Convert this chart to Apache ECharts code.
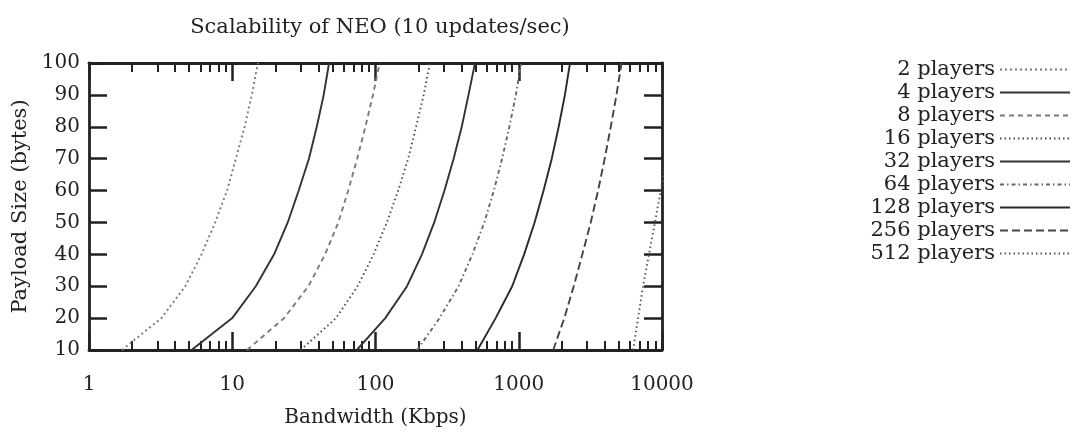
<!DOCTYPE html>
<html>
<head>
<meta charset="utf-8">
<title>Scalability of NEO</title>
<script src="https://cdn.jsdelivr.net/npm/echarts@6/dist/echarts.min.js"></script>
<style>
  html, body { margin: 0; padding: 0; background: #fff; }
  #chart { width: 1082px; height: 437px; }
</style>
</head>
<body>
<div id="chart"></div>
<script>
// Payload size (bytes) for each sample point
const payloads = [10, 20, 30, 40, 50, 60, 70, 80, 90, 100];

// Bandwidth (Kbps) per player count, one value per payload size
const bw2   = [1.7, 3.2, 4.7, 6.1, 7.6, 9.2, 10.6, 12.2, 13.7, 15.1];
const bw4   = [5.2, 10.0, 14.6, 19.6, 24.4, 29.1, 34.3, 38.9, 43.5, 47.4];
const bw8   = [12.7, 23, 34, 44.5, 55, 64.5, 74.5, 85, 96, 107];
const bw16  = [30, 53, 75, 97, 120, 144, 169, 192, 217, 240];
const bw32  = [74, 117, 166, 211, 257, 303, 351, 400, 446, 495];
const bw64  = [195, 280, 380, 475, 575, 670, 765, 860, 955, 1040];
const bw128 = [515, 690, 900, 1090, 1290, 1490, 1700, 1900, 2100, 2280];
const bw256 = [1740, 2080, 2420, 2780, 3180, 3580, 3980, 4390, 4810, 5220];
const bw512 = [6280, 6810, 7370, 8110, 8930, 9800, 10700];

const seriesNames = ['2 players', '4 players', '8 players', '16 players', '32 players',
                     '64 players', '128 players', '256 players', '512 players'];
const seriesValues = [bw2, bw4, bw8, bw16, bw32, bw64, bw128, bw256, bw512];

// X tick labels (log axis, decades)
const xTickLabels = ['1', '10', '100', '1000', '10000'];

const FONT = 'DejaVu Serif';
const INK = '#222222';

const lineStyles = [
  { color: '#7a7a7a', type: [2, 3] },
  { color: '#333333', type: 'solid' },
  { color: '#7a7a7a', type: [5, 4] },
  { color: '#4a4a4a', type: [1.5, 3] },
  { color: '#333333', type: 'solid' },
  { color: '#666666', type: [4, 3, 1.5, 3] },
  { color: '#2a2a2a', type: 'solid' },
  { color: '#444444', type: [8, 4] },
  { color: '#555555', type: [1.5, 3] }
];

const series = seriesNames.map((name, i) => ({
  name: name,
  type: 'line',
  xAxisIndex: 0,
  yAxisIndex: 0,
  symbol: 'none',
  showSymbol: false,
  clip: true,
  lineStyle: { width: 1.9, color: lineStyles[i].color, type: lineStyles[i].type },
  itemStyle: { color: lineStyles[i].color },
  data: seriesValues[i].map((v, k) => [v, payloads[k]])
}));

const frameLine = { show: true, onZero: false, lineStyle: { color: INK, width: 2.8 } };
const majorTick = { show: true, inside: true, length: 18, lineStyle: { color: INK, width: 2.5 } };
const minorTick = { show: true, splitNumber: 9, length: 9, lineStyle: { color: INK, width: 2 } };

function logAxis(position, withLabels) {
  return {
    type: 'log',
    logBase: 10,
    min: 1,
    max: 10000,
    position: position,
    axisLine: frameLine,
    axisTick: majorTick,
    minorTick: Object.assign({}, minorTick),
    splitLine: { show: false },
    minorSplitLine: { show: false },
    axisLabel: withLabels ? {
      show: true, margin: 25, fontFamily: FONT, fontSize: 20, color: INK,
      formatter: v => xTickLabels[Math.round(Math.log10(v))]
    } : { show: false },
    name: withLabels ? 'Bandwidth (Kbps)' : '',
    nameLocation: 'middle',
    nameGap: 58,
    nameTextStyle: { fontFamily: FONT, fontSize: 20, color: INK }
  };
}

function payloadAxis(position, withLabels) {
  return {
    type: 'value',
    min: 10,
    max: 100,
    interval: 10,
    position: position,
    axisLine: frameLine,
    axisTick: majorTick,
    splitLine: { show: false },
    axisLabel: withLabels ? {
      show: true, margin: 9, fontFamily: FONT, fontSize: 20, color: INK
    } : { show: false },
    name: withLabels ? 'Payload Size (bytes)' : '',
    nameLocation: 'middle',
    nameRotate: 90,
    nameGap: 52,
    nameTextStyle: { fontFamily: FONT, fontSize: 21, color: INK }
  };
}

const chart = echarts.init(document.getElementById('chart'), null, { renderer: 'canvas' });
chart.setOption({
  backgroundColor: '#ffffff',
  animation: false,
  title: {
    text: 'Scalability of NEO (10 updates/sec)',
    left: 375,
    textAlign: 'center',
    top: 12,
    textStyle: { fontFamily: FONT, fontSize: 21, fontWeight: 'normal', color: INK }
  },
  grid: { left: 89, right: 420, top: 63, bottom: 87, containLabel: false },
  xAxis: [logAxis('bottom', true), logAxis('top', false)],
  yAxis: [payloadAxis('left', true), payloadAxis('right', false)],
  legend: {
    orient: 'vertical',
    right: 6,
    top: 53,
    align: 'right',
    itemWidth: 70,
    itemHeight: 10,
    itemGap: 0,
    itemStyle: { color: 'rgba(0,0,0,0)', borderWidth: 0, opacity: 0 },
    textStyle: { fontFamily: FONT, fontSize: 21, color: INK, lineHeight: 23 },
    data: seriesNames
  },
  series: series
});
</script>
</body>
</html>
